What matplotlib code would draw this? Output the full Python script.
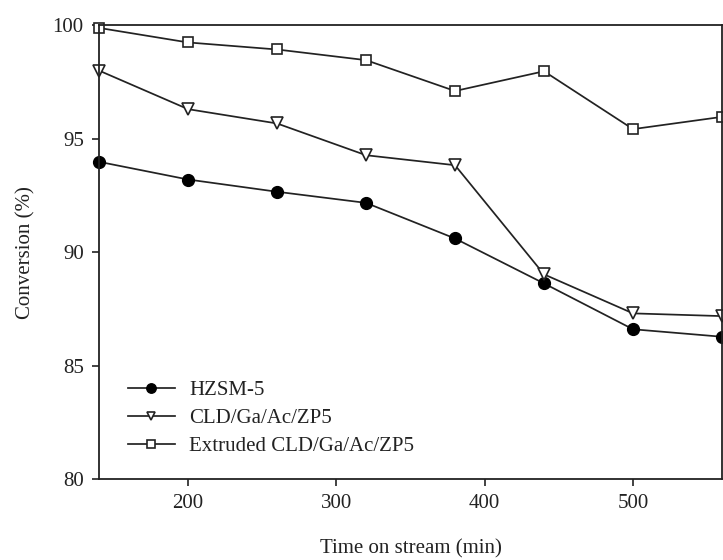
import matplotlib
matplotlib.use("Agg")
import matplotlib.pyplot as plt

time_min = [140, 200, 260, 320, 380, 440, 500, 560]
hzsm5 = [93.98, 93.2, 92.66, 92.17, 90.6, 88.62, 86.6, 86.27]
cld = [98.0, 96.3, 95.67, 94.27, 93.83, 89.02, 87.3, 87.18]
extruded = [99.88, 99.24, 98.93, 98.46, 97.1, 97.97, 95.42, 95.96]
labels = ["HZSM-5", "CLD/Ga/Ac/ZP5", "Extruded CLD/Ga/Ac/ZP5"]
xticks = [200, 300, 400, 500]
yticks = [80, 85, 90, 95, 100]

plt.rcParams['font.family'] = ['Liberation Serif', 'DejaVu Serif']

fig = plt.figure(figsize=(7.23, 5.6), dpi=100)
ax = fig.add_axes([0.137, 0.1446, 0.8616, 0.8104])
col = '#222222'
lw = 1.25
ax.plot(time_min, hzsm5, '-o', color=col, lw=lw, ms=8.5, mfc='black', mec='black', label=labels[0], clip_on=False)
ax.plot(time_min, cld, '-v', color=col, lw=lw, ms=8, mfc='white', mec=col, mew=1.2, label=labels[1], clip_on=False)
ax.plot(time_min, extruded, '-s', color=col, lw=lw, ms=7.5, mfc='white', mec=col, mew=1.2, label=labels[2], clip_on=False)

ax.set_xlim(140, 560)
ax.set_ylim(80, 100)
ax.set_xticks(xticks)
ax.set_yticks(yticks)
ax.tick_params(direction='out', length=5, width=1.2, labelsize=15, colors=col, pad=6)
for s in ax.spines.values():
    s.set_linewidth(1.3)
    s.set_color(col)
ax.set_xlabel("Time on stream (min)", fontsize=15, color=col, labelpad=19)
ax.set_ylabel("Conversion (%)", fontsize=15, color=col, labelpad=12)
leg = ax.legend(loc='lower left', bbox_to_anchor=(0.033, 0.032), borderaxespad=0, frameon=False, fontsize=15,
                handlelength=2.26, labelspacing=0.41, handletextpad=0.67, markerscale=0.8)
for t in leg.get_texts():
    t.set_color(col)
fig.savefig("out.png", dpi=100, facecolor='white')
